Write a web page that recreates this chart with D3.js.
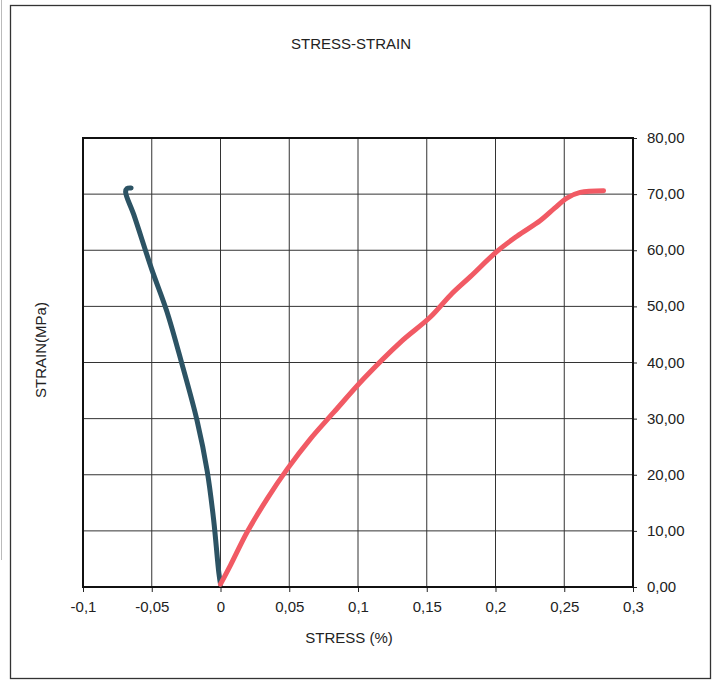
<!DOCTYPE html>
<html>
<head>
<meta charset="utf-8">
<script src="https://cdn.jsdelivr.net/npm/d3@7"></script>
<style>
  body { margin: 0; background: #fff; }
  text { font-family: "Liberation Sans", Arial, sans-serif; fill: #222; }
</style>
</head>
<body>
<div id="chart"></div>
<script>
// Data
var xTicks = [-0.1, -0.05, 0, 0.05, 0.1, 0.15, 0.2, 0.25, 0.3];
var xTickLabels = ["-0,1", "-0,05", "0", "0,05", "0,1", "0,15", "0,2", "0,25", "0,3"];
var yTicks = [0, 10, 20, 30, 40, 50, 60, 70, 80];
var yTickLabels = ["0,00", "10,00", "20,00", "30,00", "40,00", "50,00", "60,00", "70,00", "80,00"];

// lateral (blue) curve
var blueStrain = [0, -0.0012, -0.005, -0.0097, -0.017, -0.028, -0.039, -0.050, -0.063, -0.069, -0.068, -0.065];
var blueStress = [0.5, 2.5, 12.0, 20.7, 29.6, 39.7, 49.1, 56.6, 66.3, 70.4, 71.0, 71.1];

// axial (red) curve
var redStrain = [0, 0.0073, 0.0194, 0.0339, 0.0485, 0.0654, 0.0823, 0.1041, 0.1308, 0.1526, 0.1672, 0.1817, 0.2011, 0.2156, 0.2326, 0.243, 0.2519, 0.2616, 0.2786];
var redStress = [0.5, 3.9, 9.8, 15.7, 21.0, 26.4, 31.1, 37.1, 43.6, 48.1, 52.0, 55.3, 59.8, 62.5, 65.3, 67.5, 69.3, 70.3, 70.6];

var svgWidth = 712;
var svgHeight = 681;

var margin = { top: 138, right: 79, bottom: 94, left: 83 };
var chartWidth = svgWidth - margin.left - margin.right;
var chartHeight = svgHeight - margin.top - margin.bottom;

var svg = d3.select("#chart").append("svg")
    .attr("width", svgWidth)
    .attr("height", svgHeight);

// page frame
svg.append("rect")
    .attr("x", 10.5).attr("y", 5.5)
    .attr("width", 700).attr("height", 673)
    .attr("fill", "none")
    .attr("stroke", "#333")
    .attr("stroke-width", 1.3);
svg.append("line")
    .attr("x1", 1.5).attr("x2", 1.5).attr("y1", 0).attr("y2", 560)
    .attr("stroke", "#bbb").attr("stroke-width", 1);

var chartGroup = svg.append("g")
    .attr("transform", `translate(${margin.left}, ${margin.top})`);

var x = d3.scaleLinear().domain([-0.1, 0.3]).range([0, chartWidth]);
var y = d3.scaleLinear().domain([0, 80]).range([chartHeight, 0]);

// grid
chartGroup.append("g")
    .selectAll("line")
    .data(xTicks)
    .enter()
    .append("line")
    .attr("x1", d => x(d)).attr("x2", d => x(d))
    .attr("y1", 0).attr("y2", chartHeight)
    .attr("stroke", "#333").attr("stroke-width", 1);

chartGroup.append("g")
    .selectAll("line")
    .data(yTicks)
    .enter()
    .append("line")
    .attr("x1", 0).attr("x2", chartWidth)
    .attr("y1", d => y(d)).attr("y2", d => y(d))
    .attr("stroke", "#333").attr("stroke-width", 1);

// axes
var bottomAxis = d3.axisBottom(x)
    .tickValues(xTicks)
    .tickFormat((d, i) => xTickLabels[i])
    .tickSize(5)
    .tickPadding(9);
var rightAxis = d3.axisRight(y)
    .tickValues(yTicks)
    .tickFormat((d, i) => yTickLabels[i])
    .tickSize(4)
    .tickPadding(10);

var gx = chartGroup.append("g")
    .attr("transform", `translate(0, ${chartHeight})`)
    .call(bottomAxis);
var gy = chartGroup.append("g")
    .attr("transform", `translate(${chartWidth}, 0)`)
    .call(rightAxis);

[gx, gy].forEach(function (g) {
    g.select(".domain").remove();
    g.selectAll("line").attr("stroke", "#222");
    g.selectAll("text")
        .style("font-size", "15px")
        .style("font-family", "'Liberation Sans', Arial, sans-serif")
        .attr("fill", "#222");
});
gy.selectAll("text").attr("dy", "0.3em");

// plot border
chartGroup.append("rect")
    .attr("x", 0).attr("y", 0)
    .attr("width", chartWidth).attr("height", chartHeight)
    .attr("fill", "none")
    .attr("stroke", "#111")
    .attr("stroke-width", 2);

// curves
var line = d3.line()
    .x(d => x(d[0]))
    .y(d => y(d[1]))
    .curve(d3.curveCatmullRom);

chartGroup.append("path")
    .datum(blueStrain.map((v, i) => [v, blueStress[i]]))
    .attr("d", line)
    .attr("fill", "none")
    .attr("stroke", "#2c5364")
    .attr("stroke-width", 5)
    .attr("stroke-linecap", "round")
    .attr("stroke-linejoin", "round");

chartGroup.append("path")
    .datum(redStrain.map((v, i) => [v, redStress[i]]))
    .attr("d", line)
    .attr("fill", "none")
    .attr("stroke", "#f15a64")
    .attr("stroke-width", 5)
    .attr("stroke-linecap", "round")
    .attr("stroke-linejoin", "round");

// titles
svg.append("text")
    .attr("x", 351).attr("y", 49)
    .attr("text-anchor", "middle")
    .style("font-size", "15px")
    .text("STRESS-STRAIN");

svg.append("text")
    .attr("x", 349).attr("y", 643)
    .attr("text-anchor", "middle")
    .style("font-size", "15px")
    .text("STRESS (%)");

svg.append("text")
    .attr("transform", "translate(46, 350) rotate(-90)")
    .attr("text-anchor", "middle")
    .style("font-size", "15px")
    .text("STRAIN(MPa)");
</script>
</body>
</html>
